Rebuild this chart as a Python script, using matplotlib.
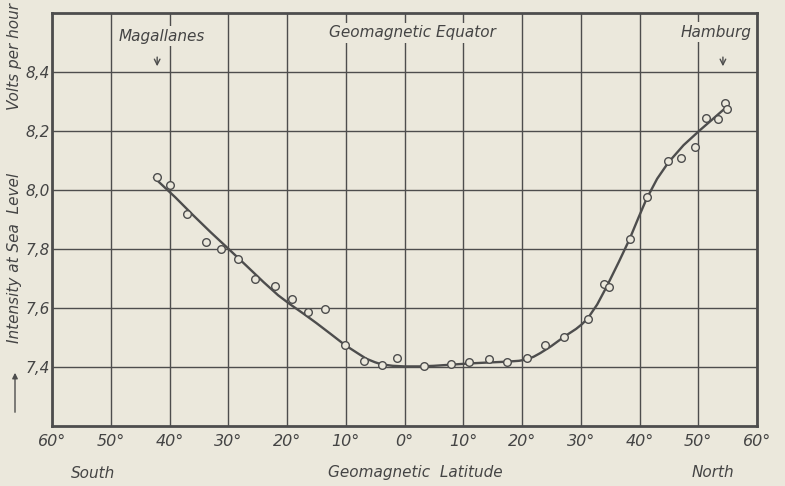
import matplotlib.pyplot as plt

# measured points (open circles)
obs_lat = [-42.1, -39.9, -37.1, -33.8, -31.2, -28.4, -25.4, -22.0, -19.1, -16.5, -13.6,
           -10.1, -6.9, -3.9, -1.2, 3.4, 7.9, 11.0, 14.3, 17.4, 20.9, 23.9, 27.2, 31.2,
           34.0, 34.8, 38.3, 41.2, 44.9, 47.1, 49.4, 51.4, 53.3, 54.5, 54.9]
obs_val = [8.044, 8.016, 7.92, 7.824, 7.80, 7.767, 7.70, 7.675, 7.632, 7.585, 7.596,
           7.474, 7.420, 7.408, 7.429, 7.403, 7.409, 7.417, 7.428, 7.418, 7.431, 7.476,
           7.503, 7.562, 7.68, 7.672, 7.833, 7.977, 8.10, 8.110, 8.147, 8.243, 8.242,
           8.294, 8.274]

# hand drawn smooth curve
curve_lat = [-42.6, -39, -36, -33, -30.2, -27, -24, -21.5, -19.5, -17, -15, -12.5, -10.1,
             -8, -6.5, -5, -3.9, -2, 0, 2.5, 5, 8, 11, 14, 17.4, 19.5, 20.9, 22, 23.1,
             25, 27.2, 29.2, 30.2, 31.2, 32.8, 34.4, 36.5, 38.3, 39.8, 41.2, 43.0, 44.9,
             47.5, 50.3, 52.5, 54.8]
curve_val = [8.042, 7.975, 7.915, 7.857, 7.805, 7.745, 7.688, 7.643, 7.613, 7.578, 7.549,
             7.511, 7.474, 7.447, 7.428, 7.416, 7.409, 7.404, 7.402, 7.402, 7.404, 7.408,
             7.412, 7.415, 7.418, 7.421, 7.426, 7.435, 7.447, 7.471, 7.503, 7.529, 7.545,
             7.565, 7.612, 7.672, 7.757, 7.833, 7.905, 7.970, 8.038, 8.093, 8.152,
             8.203, 8.241, 8.281]

xticks = list(range(-60, 61, 10))
xticklabels = ['%d°' % abs(t) for t in xticks]
yticks = [7.4, 7.6, 7.8, 8.0, 8.2, 8.4]
yticklabels = ['7,4', '7,6', '7,8', '8,0', '8,2', '8,4']

bg = '#ebe8dc'
ink = '#4d4d4d'
txt = '#444444'
W, H = 785, 486

def fx(px):
    return px / W

def fy(py):
    return 1 - py / H

fig = plt.figure(figsize=(7.85, 4.86), dpi=100, facecolor=bg)
ax = fig.add_axes([fx(52), fy(426), fx(757) - fx(52), fy(13) - fy(426)])
ax.set_facecolor(bg)

ax.plot(curve_lat, curve_val, color=ink, lw=1.7, zorder=3)
ax.plot(obs_lat, obs_val, 'o', ms=5.5, mfc=bg, mec=ink, mew=1.0, zorder=4)

ax.set_xlim(-60, 60)
ax.set_ylim(7.2, 8.6)
ax.set_xticks(xticks)
ax.set_xticklabels(xticklabels)
ax.set_yticks(yticks)
ax.set_yticklabels(yticklabels)
ax.tick_params(axis='x', length=0, labelsize=11.5, labelcolor=txt, pad=6)
ax.tick_params(axis='y', length=0, labelsize=11, labelcolor=txt, pad=1.5)
for lab in ax.get_xticklabels() + ax.get_yticklabels():
    lab.set_fontstyle('italic')
ax.grid(True, color=ink, lw=1.0)
ax.set_axisbelow(True)
for s in ax.spines.values():
    s.set_color(ink)
    s.set_linewidth(2)

tkw = dict(fontsize=11, fontstyle='italic', color=txt, ha='center', va='center')
box = dict(facecolor=bg, edgecolor='none', pad=1.5)
fig.text(fx(162), fy(36), 'Magallanes', bbox=box, **tkw)
fig.text(fx(412), fy(33), 'Geomagnetic Equator', bbox=box, **tkw)
fig.text(fx(716), fy(32), 'Hamburg', bbox=box, **tkw)

arr = dict(arrowstyle='->', color=ink, lw=1.0)
ax.annotate('', xy=(-42.1, 8.41), xytext=(-42.1, 8.46), arrowprops=arr)
ax.annotate('', xy=(54.2, 8.41), xytext=(54.2, 8.46), arrowprops=arr)

fig.text(fx(93), fy(473), 'South', **tkw)
fig.text(fx(415), fy(472), 'Geomagnetic  Latitude', **tkw)
fig.text(fx(713), fy(472), 'North', **tkw)

fig.text(fx(15), fy(258), 'Intensity at Sea  Level', rotation=90, **tkw)
fig.text(fx(15), fy(57), 'Volts per hour', rotation=90, **tkw)
fig.add_artist(plt.Annotation('', xy=(fx(15), fy(370)), xytext=(fx(15), fy(415)),
                              xycoords='figure fraction', textcoords='figure fraction',
                              arrowprops=dict(arrowstyle='-|>', color=ink, lw=1.0,
                                              mutation_scale=8)))

fig.savefig('out.png', dpi=100, facecolor=bg)
